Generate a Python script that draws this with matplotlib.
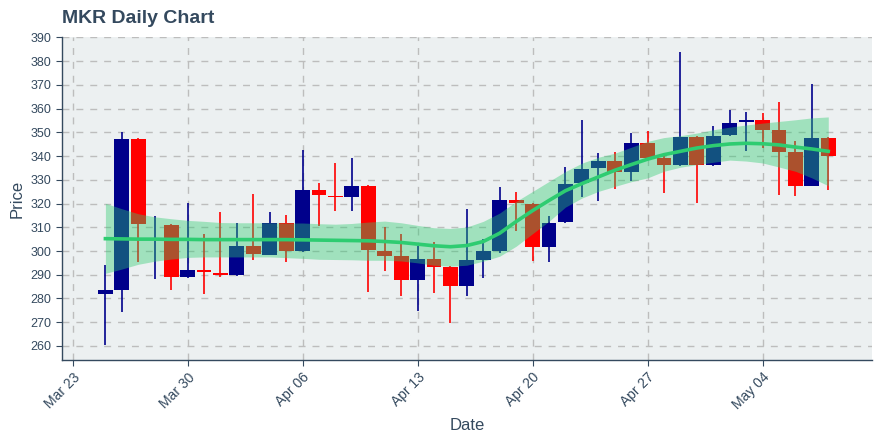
import matplotlib
matplotlib.use("Agg")
import matplotlib.pyplot as plt
import matplotlib.dates as mdates
import numpy as np
import pandas as pd

plt.rcParams['font.family'] = ['Liberation Sans', 'DejaVu Sans']

dates = pd.date_range("2020-03-25", "2020-05-08", freq="D")

opens = [282.0, 283.5, 347.3, 304.6, 311.1, 289.0, 291.8, 290.9, 289.8, 302.3,
         298.5, 311.6, 299.9, 325.5, 323.3, 322.6, 327.6, 300.2, 297.7, 287.7,
         296.7, 293.2, 285.2, 296.4, 300.2, 321.7, 320.0, 301.6, 312.1, 328.5,
         334.9, 338.1, 333.2, 345.7, 339.0, 336.1, 348.2, 336.1, 348.7, 354.2,
         355.3, 350.8, 341.6, 327.3, 347.8]
closes = [283.5, 347.3, 311.3, 305.2, 289.0, 291.8, 291.1, 289.8, 302.3, 298.6,
          311.6, 299.9, 325.5, 323.5, 322.6, 327.6, 300.3, 297.8, 287.7, 296.7,
          293.2, 285.2, 296.4, 300.2, 321.7, 320.3, 301.6, 312.0, 328.4, 334.7,
          338.1, 333.2, 345.7, 339.1, 336.1, 348.2, 336.1, 348.6, 354.1, 355.3,
          350.8, 341.6, 327.3, 347.8, 339.9]
highs = [294.0, 350.0, 347.5, 314.9, 311.5, 320.3, 307.3, 316.5, 311.8, 324.2,
         316.4, 315.2, 342.7, 328.8, 337.1, 339.2, 327.8, 310.2, 307.2, 302.3,
         304.0, 293.5, 317.5, 304.9, 327.0, 324.9, 320.4, 314.9, 335.3, 355.3,
         341.3, 341.9, 349.6, 350.5, 341.3, 384.0, 348.4, 352.8, 359.3, 358.7,
         358.2, 362.9, 346.2, 370.4, 347.9]
lows = [260.3, 274.2, 295.4, 288.0, 283.5, 288.8, 282.0, 289.2, 289.5, 296.1,
        298.3, 295.4, 299.7, 310.4, 317.0, 316.7, 282.9, 291.5, 280.9, 274.6,
        282.2, 269.6, 280.9, 288.5, 299.2, 308.3, 295.7, 295.3, 312.0, 322.6,
        321.0, 326.3, 329.4, 339.0, 324.5, 336.0, 320.3, 336.0, 348.6, 342.3,
        343.4, 323.8, 323.1, 327.2, 325.9]

trend = [305.2, 305.1, 305.0, 305.0, 304.9, 304.9, 304.8, 304.8, 304.8, 304.8,
         304.8, 304.8, 304.7, 304.6, 304.5, 304.4, 304.3, 304.0, 303.6, 302.9,
         302.2, 301.8, 302.3, 304.0, 307.5, 312.4, 317.0, 321.3, 325.4, 328.4,
         331.2, 334.0, 336.4, 338.7, 340.6, 342.0, 343.4, 344.4, 345.1, 345.4,
         345.2, 344.7, 343.8, 343.0, 342.0]
band_hi = [320.1, 317.8, 315.7, 314.4, 313.6, 312.9, 312.5, 312.0, 311.9, 311.9,
           311.9, 311.8, 311.8, 311.5, 311.3, 311.6, 312.2, 312.6, 311.9, 310.8,
           309.8, 309.5, 310.1, 312.5, 316.0, 320.9, 325.1, 329.3, 333.5, 337.0,
           339.5, 341.2, 343.7, 346.2, 347.8, 348.6, 349.7, 351.1, 352.2, 353.1,
           353.9, 354.6, 355.3, 356.1, 356.5]
band_lo = [290.6, 292.4, 294.4, 295.7, 296.6, 297.3, 297.5, 297.5, 297.5, 297.5,
           297.5, 297.2, 296.9, 296.5, 296.4, 296.3, 296.1, 296.1, 295.8, 295.0,
           294.0, 293.6, 294.0, 295.7, 297.8, 302.0, 307.3, 312.5, 318.5, 322.3,
           325.1, 327.2, 329.2, 330.8, 333.6, 335.3, 336.4, 337.4, 338.3, 337.9,
           337.1, 335.4, 333.6, 330.8, 327.5]

tick_dates = pd.date_range("2020-03-23", "2020-05-04", freq="7D")

text_col = '#34495e'
up_col = '#00008b'
down_col = '#ff0000'
green = '#2ecc71'

fig = plt.figure(figsize=(8.8, 4.4), dpi=100)
ax = fig.add_axes([0.0705, 0.182, 0.92, 0.734])
ax.set_facecolor('#ecf0f1')

x = mdates.date2num(dates)
o = np.array(opens); c = np.array(closes)
cols = [up_col if cc >= oo else down_col for oo, cc in zip(o, c)]

# wicks, bodies, then the band over them
ax.vlines(x, lows, highs, colors=cols, linewidth=1.2, zorder=2)
ax.bar(x, np.abs(c - o), bottom=np.minimum(o, c), width=0.9, color=cols,
       linewidth=0, zorder=3)
ax.fill_between(x, band_lo, band_hi, color=green, alpha=0.4, linewidth=0, zorder=4)
ax.plot(x, trend, color=green, linewidth=2.6, zorder=5)

ax.set_xlim(x[0] - 2.64, x[-1] + 2.64)
ax.set_ylim(254.1, 390.2)
ax.set_yticks(np.arange(260, 391, 10))
ax.set_xticks(mdates.date2num(tick_dates))
ax.xaxis.set_major_formatter(mdates.DateFormatter('%b %d'))

ax.grid(True, color='#bdbdbd', linestyle=(0, (5, 5)), linewidth=1.0, zorder=0)
ax.set_axisbelow(True)
for s in ['top', 'right']:
    ax.spines[s].set_visible(False)
for s in ['left', 'bottom']:
    ax.spines[s].set_color(text_col)
    ax.spines[s].set_linewidth(1.0)
ax.tick_params(colors=text_col, labelsize=9, length=4)
ax.tick_params(axis='x', labelsize=10)
plt.setp(ax.get_xticklabels(), rotation=45, ha='right', rotation_mode='anchor')

ax.set_xlabel('Date', fontsize=12, color=text_col, labelpad=4)
ax.set_ylabel('Price', fontsize=12, color=text_col)
fig.text(0.0705, 1 - 23 / 440, 'MKR Daily Chart', fontsize=14, fontweight='bold',
         color=text_col, va='baseline', ha='left')

fig.savefig('out.png', dpi=100)
